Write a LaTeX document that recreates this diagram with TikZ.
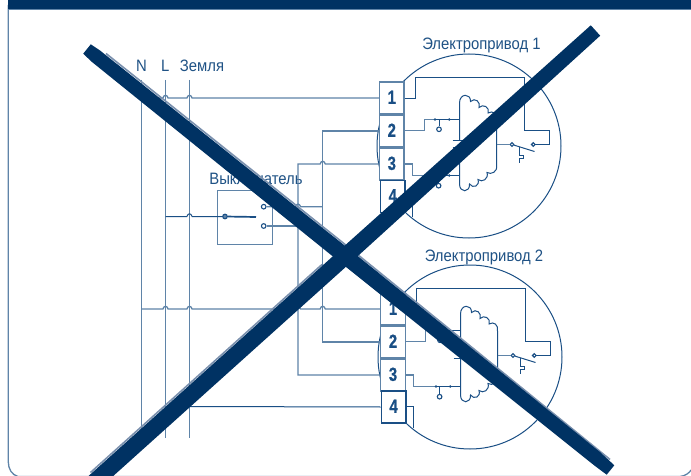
\documentclass[tikz,border=0pt]{standalone}
\usepackage{fontspec}
\setmainfont[FakeStretch=0.9]{Liberation Sans}
\newfontfamily\digfont[FakeStretch=0.78,BoldFeatures={FakeBold=0.6}]{Liberation Sans}
\definecolor{navy}{HTML}{003263}
\definecolor{wireL}{HTML}{5F84A8}
\definecolor{wireD}{HTML}{1A4F85}
\definecolor{inkT}{HTML}{1F5285}
\definecolor{shade}{HTML}{7A90AE}
\tikzset{
  wl/.style={draw=wireL,line width=1.3pt},
  wd/.style={draw=wireD,line width=1pt},
  lbl/.style={inner sep=0pt,text=inkT,font=\fontsize{16.5}{17}\selectfont},
  term/.style={draw=wireL,line width=1.4pt,fill=white,minimum width=24.5pt,minimum height=32pt,inner sep=0pt,text=wireD,font=\digfont\fontsize{19}{20}\selectfont\bfseries},
  termd/.style={term,draw=wireD},
  ring/.style={draw=wireD,line width=1pt},
  opn/.style={circle,draw=wireD,line width=1.1pt,fill=white,minimum size=4.6pt,inner sep=0pt},
  blk/.style={circle,fill=wireD,minimum size=2.8pt,inner sep=0pt},
  bar/.style={fill=navy},
  barshade/.style={draw=shade,line width=1.6pt}
}
\newcommand\tdig[1]{\raisebox{1.5pt}{#1}}
% hop of a horizontal wire over a vertical one at x=#1, y=#2
\newcommand\hop[2]{-- ({#1-2.6},#2) .. controls ({#1-1.6},{#2-3.6}) and ({#1+1.6},{#2-3.6}) .. ({#1+2.6},#2)}
% motor: #1 prefix, #2 dx, #3 dy
\newcommand\motorbody[3]{%
\begin{scope}[shift={(#2,#3)}]
  \node[circle,ring,minimum size=184pt,inner sep=0pt] (#1c) at (469,146) {};
  % supply loop from terminal 1 to the limit switch
  \draw[wd] (404,98.5) -- (415.5,98.5) -- (415.5,77.5) -- (524.5,77.5) -- (524.5,130.5) -- (549.5,130.5) -- (549.5,144.5) -- (535.4,144.5);
  % terminal 2 branch
  \coordinate (#1a) at (435,119.5);
  \coordinate (#1b) at (449.3,119.5);
  \draw[wl] (404,130.7) -- (424.3,130.7) -- (424.3,119.5) -- (#1a);
  \draw[wd] (#1a) -- (#1b) -- (459.5,119.5);
  \node[opn] (#1o) at (439,129.3) {};
  \draw[wd] (439,119.5) -- (#1o);
  \node[blk] at (#1a) {};
  \node[blk] at (#1b) {};
  % terminal 3 branch
  \coordinate (#1d) at (435,175.5);
  \coordinate (#1e) at (449.3,175.5);
  \draw[wl] (404,164) -- (412.3,164) -- (412.3,175.5) -- (#1d);
  \draw[wd] (#1d) -- (#1e) -- (459.5,175.5);
  \node[opn] (#1p) at (438.6,185.7) {};
  \draw[wd] (438.6,175.5) -- (#1p);
  \node[blk] at (#1d) {};
  \node[blk] at (#1e) {};
  % terminal 4 tail
  \draw[wd] (405,195.5) -- (412.5,195.5) -- (412.5,217);
  % windings
  \draw[wd] (459.5,140.5) -- (459.5,103)
     .. controls (459.5,93) and (471,93) .. (470.5,101.5)
     .. controls (475,97) and (481,102) .. (479,107.5)
     .. controls (483,103.5) and (490,107) .. (488,113)
     .. controls (493,110) and (497.5,114) .. (496.5,120)
     -- (496.5,165)
     .. controls (498,172) and (491,175) .. (487,172.5)
     .. controls (489,179) and (482,183) .. (478,179.5)
     .. controls (480,186) and (473,189) .. (469.5,184)
     .. controls (470,193) and (459.5,193) .. (459.5,184)
     -- (459.5,147.5);
  \draw[wd] (452.7,140.5) -- (466,140.5);
  \draw[wd] (452.7,147.5) -- (466,147.5);
  % limit switch
  \node[opn,minimum size=3.6pt] (#1s) at (512,144.5) {};
  \node[opn,minimum size=3.6pt] (#1u) at (533.3,144.5) {};
  \draw[wl] (496.5,144.5) -- (#1s);
  \draw[wd] (#1s) -- (534.5,151.5);
  \draw[wd] (519.5,147) -- (519.5,155.5) -- (523.5,155.5) -- (523.5,158.5) -- (519.5,158.5) -- (519.5,163.3);
\end{scope}}
\begin{document}
\begin{tikzpicture}[x=1pt,y=-1pt]
\useasboundingbox (0,0) rectangle (691,476);
\fill[white] (0,0) rectangle (691,476);
% panel
\draw[wl] (8.3,5) -- (8.3,462) .. controls (8.3,469) and (12,475) .. (18,476.5) -- (680,476.5) .. controls (686,476) and (690,472) .. (691,470);
\fill[navy] (8,0) rectangle (691,9);
\draw[wl] (8,9.4) -- (691,9.4);

% labels
\node[lbl] (lN) at (141.5,66) {N};
\node[lbl] (lL) at (165.3,66) {L};
\node[lbl] (lE) at (202,66) {Земля};
\node[lbl] (lS) at (256,179) {Выключатель};
\node[lbl] (lM1) at (481.5,45.5) {Электропривод 1};
\node[lbl] (lM2) at (484,257) {Электропривод 2};

% buses
\coordinate (bN) at (141.5,80);
\coordinate (bL) at (165.5,80);
\coordinate (bE) at (189.5,80);
\coordinate (eN) at (141.5,438);
\coordinate (eL) at (165.5,438);
\coordinate (eE) at (189.5,438);
\draw[wl] (bN) -- (eN);
\draw[wl] (bL) -- (eL);
\draw[wl] (bE) -- (eE);

% motors (rings and internals)
\motorbody{m}{0}{0}
\motorbody{n}{1}{211}

% terminals
\node[term] (t1) at (391.8,98) {\tdig{1}};
\node[term] (t2) at (391.8,131) {\tdig{2}};
\node[term] (t3) at (391.8,164) {\tdig{3}};
\node[termd] (t4) at (392.8,196.5) {\tdig{4}};
\node[term] (u1) at (393,309) {\tdig{1}};
\node[term] (u2) at (393,342) {\tdig{2}};
\node[term] (u3) at (393,375) {\tdig{3}};
\node[termd] (u4) at (393.6,407) {\tdig{4}};

% switch
\node[draw=wireL,line width=1.3pt,minimum width=54.6pt,minimum height=54pt,inner sep=0pt] (sw) at (245,217.7) {};
\node[opn,fill=wireL] (sp) at (225,216.5) {};
\node[opn] (s1) at (263.7,206.7) {};
\node[opn] (s2) at (263.7,226) {};
\draw[draw=wireD,line width=1.7pt] (sp) -- (256,217);

% coordinates of the risers
\coordinate (r1) at (298,164);
\coordinate (r2) at (298,375);
\coordinate (q1) at (322.7,131);
\coordinate (q2) at (322.7,342);

% wiring
\draw[wl] (141.5,98) \hop{165.5}{98} \hop{189.5}{98} -- (t1.west);
\draw[wd] (165.5,216.5) \hop{189.5}{216.5} -- (sp);
\draw[wl] (s1) \hop{298}{206.8} -- (322.7,206.8);
\draw[wl] (s2) -- (298,226);
\draw[wl] (u3.west) -- (r2) -- (r1) \hop{322.7}{164} -- (t3.west);
\draw[wl] (t2.west) -- (q1) -- (q2) -- (u2.west);
\draw[wl] (141.5,309) \hop{165.5}{309} \hop{189.5}{309} \hop{298}{309} \hop{322.7}{309} -- (u1.west);
\draw[wd] (189.5,406.5) -- (u4.west);

% crossing-out strokes
\draw[barshade] (106,53.5) -- (350.5,248.8) -- (610,459.5);
\draw[barshade] (322,264.5) -- (90.5,472.5);
\fill[bar] (90.8,44.3) -- (100,50.5) -- (350,249.8) -- (600,452) -- (614.3,465.3) -- (606.7,474.7) -- (595,466) -- (340,262.2) -- (92,62) -- (83.2,53.7) -- cycle;
\fill[bar] (600.2,35.7) -- (350.4,262.8) -- (100,487.9) -- (88.5,476) -- (339.6,250.2) -- (590.8,25.3) -- cycle;
\end{tikzpicture}
\end{document}
